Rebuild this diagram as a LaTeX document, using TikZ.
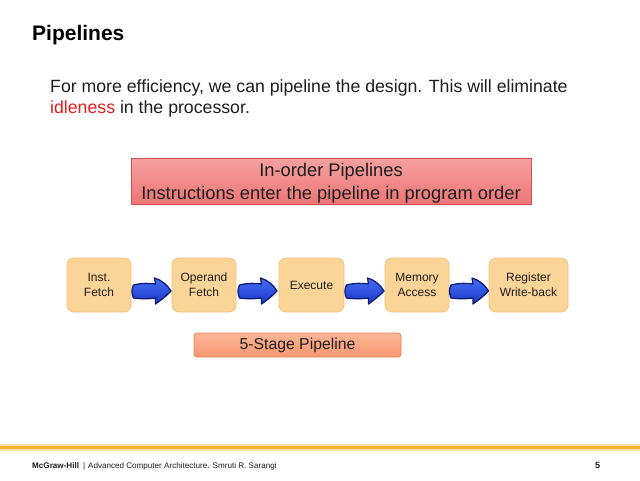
\documentclass[tikz,border=0pt]{standalone}
\usepackage{fontspec}
\setmainfont{Liberation Sans}
\usetikzlibrary{calc}
\definecolor{stagefill}{RGB}{251,212,152}
\definecolor{stagedraw}{RGB}{246,193,118}
\definecolor{redtop}{RGB}{246,160,160}
\definecolor{redbot}{RGB}{236,118,118}
\definecolor{reddraw}{RGB}{214,78,78}
\definecolor{salmontop}{RGB}{252,182,150}
\definecolor{salmonbot}{RGB}{246,150,112}
\definecolor{salmondraw}{RGB}{232,128,80}
\definecolor{arrowtop}{RGB}{70,110,245}
\definecolor{arrowbot}{RGB}{25,55,200}
\definecolor{arrowdraw}{RGB}{15,30,115}
\definecolor{footline}{RGB}{244,176,48}
\definecolor{foothalo}{RGB}{253,228,165}
\definecolor{idlered}{RGB}{230,30,30}
\definecolor{textgray}{RGB}{30,30,30}
\tikzset{
  stagebox/.style={draw=stagedraw, fill=stagefill, rounded corners=7pt, line width=0.8pt,
    minimum height=54pt, align=center, text=textgray,
    font=\fontsize{12}{15}\selectfont, inner sep=2pt},
  headbox/.style={draw=reddraw, line width=0.8pt, top color=redtop, bottom color=redbot,
    minimum width=400pt, minimum height=46pt, inner sep=0pt},
  headtext/.style={align=center, text=textgray, font=\fontsize{18.3}{23}\selectfont, inner sep=0pt},
  labelbox/.style={draw=salmondraw, line width=0.8pt, top color=salmontop, bottom color=salmonbot,
    rounded corners=3pt, minimum width=207pt, minimum height=24pt, text=textgray,
    font=\fontsize{15.8}{18}\selectfont, inner sep=0pt},
  blockarrow/.pic={
    \path[top color=arrowtop, bottom color=arrowbot, draw=arrowdraw, line width=1.3pt, line join=round]
      (-18,0) .. controls (-10,-2) and (-2,-2) .. (4,-1) -- (3,-7)
      .. controls (10,-5) and (16,0) .. (19.5,6)
      .. controls (14,12) and (8,16) .. (4,19) -- (4,13)
      .. controls (-4,14) and (-10,14) .. (-18,13)
      .. controls (-20,9) and (-20,4) .. cycle;
  }
}
\begin{document}
\begin{tikzpicture}[x=1pt,y=-1pt]
\useasboundingbox[fill=white] (0,0) rectangle (640,480);
% title
\node[anchor=base west, inner sep=0pt, font=\fontsize{21}{25}\selectfont\bfseries] (title) at (32,40) {Pipelines};
% body
\node[anchor=base west, inner sep=0pt, font=\fontsize{17.7}{20}\selectfont, text=textgray] (line1) at (50,92)
  {For more efficiency, we can pipeline the design. This will eliminate};
\node[anchor=base west, inner sep=0pt, font=\fontsize{17.7}{20}\selectfont, text=textgray] (line2) at (50,113)
  {\textcolor{idlered}{idleness} in the processor.};
% header box
\node[headbox] (head) at (331,181) {};
\node[headtext] (headtxt) at ($(head.center)+(0,2.5)$) {In-order Pipelines\\Instructions enter the pipeline in program order};
% stages
\node[stagebox, minimum width=64pt] (s1) at (99,285) {Inst.\\Fetch};
\node[stagebox, minimum width=64pt] (s2) at (204,285) {Operand\\Fetch};
\node[stagebox, minimum width=65pt] (s3) at (311.5,285) {Execute};
\node[stagebox, minimum width=64pt] (s4) at (417,285) {Memory\\Access};
\node[stagebox, minimum width=79pt] (s5) at (528.5,285) {Register\\Write-back};
% arrows
\foreach \a/\b in {s1/s2, s2/s3, s3/s4, s4/s5}{
  \path ($(\a.east)!0.5!(\b.west)$) pic {blockarrow};
}
% label
\node[labelbox] (lbl) at (297.5,345) {5-Stage Pipeline};
% footer
\coordinate (fl) at (0,447);
\coordinate (fr) at (640,447);
\draw[foothalo, line width=7pt] (fl) -- (fr);
\draw[footline, line width=3pt] (fl) -- (fr);
\node[anchor=base west, inner sep=0pt, font=\fontsize{8.1}{10}\selectfont, text=textgray] (foot) at (32,468)
  {\textbf{McGraw-Hill}\hspace{4pt}|\hspace{3pt}Advanced Computer Architecture. Smruti R. Sarangi};
\node[anchor=base west, inner sep=0pt, font=\fontsize{9}{10}\selectfont\bfseries, text=textgray] (pg) at (595,468) {5};
\end{tikzpicture}
\end{document}
